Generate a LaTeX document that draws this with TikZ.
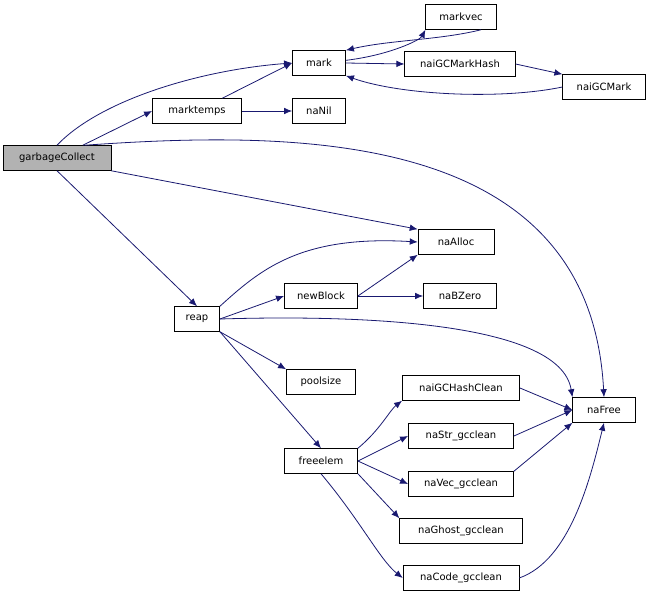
\documentclass[tikz,border=0pt]{standalone}
\usepackage{fontspec}
\setmainfont{DejaVu Sans}
\usetikzlibrary{arrows.meta}
\definecolor{edge}{HTML}{191970}
\tikzset{
  fn/.style={draw=black,fill=white,rectangle,minimum height=18.75pt,inner xsep=3pt,font=\fontsize{7.5}{9}\selectfont,anchor=center},
  root/.style={fn,fill=gray!60},
  e/.style={draw=edge,-{Latex[length=6pt,width=5pt]},line width=0.6pt}
}
\begin{document}
\begin{tikzpicture}[x=0.75pt,y=-0.75pt]
\useasboundingbox (0,0) rectangle (651,600);
\node[root,minimum width=81pt] (gc) at (57,158) {garbageCollect};
\node[fn,minimum width=67pt] (mt) at (197,111) {marktemps};
\node[fn,minimum width=40pt] (mark) at (319,63) {mark};
\node[fn,minimum width=53pt] (mv) at (461,17) {markvec};
\node[fn,minimum width=83pt] (mh) at (460,64) {naiGCMarkHash};
\node[fn,minimum width=62pt] (gm) at (604,87) {naiGCMark};
\node[fn,minimum width=40pt] (nil) at (319,111) {naNil};
\node[fn,minimum width=57pt] (alloc) at (456,242) {naAlloc};
\node[fn,minimum width=34pt] (reap) at (197,319) {reap};
\node[fn,minimum width=55pt] (nb) at (321,296) {newBlock};
\node[fn,minimum width=55pt] (bz) at (460,296) {naBZero};
\node[fn,minimum width=47pt] (free) at (604,410) {naFree};
\node[fn,minimum width=52pt] (pool) at (321,382) {poolsize};
\node[fn,minimum width=88pt] (hc) at (461,388) {naiGCHashClean};
\node[fn,minimum width=79pt] (sc) at (461,436) {naStr\_gcclean};
\node[fn,minimum width=55pt] (fe) at (321,461) {freeelem};
\node[fn,minimum width=79pt] (vc) at (461,484) {naVec\_gcclean};
\node[fn,minimum width=92pt] (ghc) at (461,531) {naGhost\_gcclean};
\node[fn,minimum width=87pt] (cc) at (461,578) {naCode\_gcclean};

\draw[e] (gc.north) .. controls (100,100) and (200,70) .. (mark.west);
\draw[e] (gc) -- (mt.west);
\draw[e] ([xshift=-20pt]gc.north east) .. controls (300,130) and (590,130) .. (free.north);
\draw[e] (gc.south east) -- (alloc.north west);
\draw[e] (gc.south) -- (reap.north);
\draw[e] (mt.east) -- (nil.west);
\draw[e] (mt) -- (mark.west);
\draw[e] ([yshift=2pt]mark.east) .. controls (390,55) and (420,40) .. (mv.south west);
\draw[e] ([xshift=15pt]mv.south) .. controls (440,40) and (390,40) .. (mark.north east);
\draw[e] (mark.east) -- (mh.west);
\draw[e] (mh.east) -- (gm.north west);
\draw[e] (gm.west) .. controls (500,100) and (400,95) .. (mark.south east);
\draw[e] (reap.north east) .. controls (260,270) and (300,235) .. (alloc.west);
\draw[e] (reap.east) -- (nb.west);
\draw[e] (nb.east) -- (alloc.south west);
\draw[e] (nb.east) -- (bz.west);
\draw[e] (reap.east) .. controls (350,315) and (560,320) .. (free.north west);
\draw[e] (reap.south east) -- (pool.north west);
\draw[e] (reap.south east) -- (fe.north);
\draw[e] (fe.north east) .. controls (380,430) and (390,410) .. (hc.south west);
\draw[e] (fe.east) -- (sc.west);
\draw[e] (fe.east) -- (vc.west);
\draw[e] (fe.south east) -- (ghc.north west);
\draw[e] (fe.south) .. controls (360,520) and (380,560) .. (cc.west);
\draw[e] (hc.east) -- (free.west);
\draw[e] (sc.east) -- (free.west);
\draw[e] (vc.north east) -- (free.south west);
\draw[e] (cc.east) .. controls (570,560) and (590,480) .. (free.south);
\end{tikzpicture}
\end{document}
